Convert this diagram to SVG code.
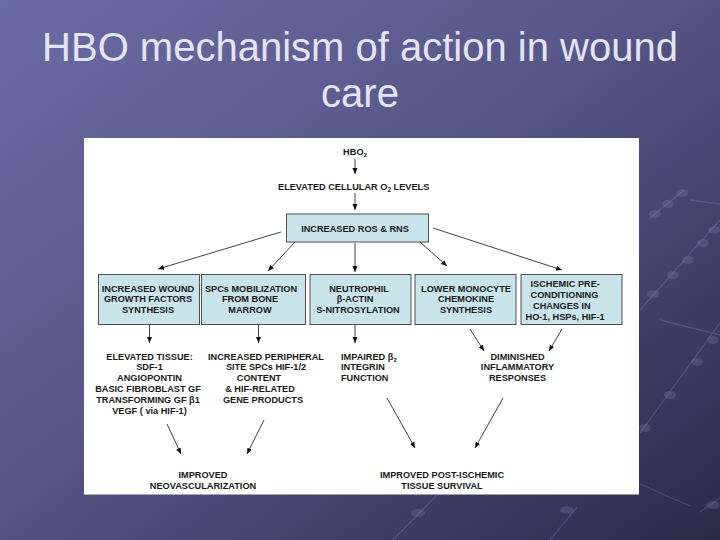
<svg xmlns="http://www.w3.org/2000/svg" width="720" height="540" viewBox="0 0 720 540">
<defs>
<linearGradient id="bg" x1="0" y1="0" x2="1" y2="1">
<stop offset="0" stop-color="#6c6ca4"/>
<stop offset="0.45" stop-color="#565688"/>
<stop offset="1" stop-color="#2a2a48"/>
</linearGradient>
<marker id="ah" viewBox="0 0 10 10" refX="10" refY="5" markerWidth="6" markerHeight="6" markerUnits="userSpaceOnUse" orient="auto">
<path d="M0,0.8 L10,5 L0,9.2 z" fill="#111"/>
</marker>
<style>
.title{font-family:"Liberation Sans",Arial,sans-serif;font-size:40px;fill:#e4e4f6;text-anchor:middle}
.t{font-family:"Liberation Sans",Arial,sans-serif;font-weight:bold;font-size:9.2px;fill:#1a1a1a}
.m{text-anchor:middle}
.box{fill:#c9e4ea;stroke:#505050;stroke-width:1}
.c line{stroke:#111;stroke-width:0.8;marker-end:url(#ah)}
.deco{stroke:#9a9ad0;stroke-opacity:0.25;stroke-width:1.3;fill:none}
.bead{fill:#8888bb;fill-opacity:0.25}
</style>
</defs>
<rect x="0" y="0" width="720" height="540" fill="url(#bg)"/>
<g id="decoration">
<path class="deco" d="M640,433 L720,323 M640,310 L720,220 M650,218 L684,190 M393,540 L437,495 M550,540 L577,507 M700,512 L720,498 M640,484 L690,506 M690,200 L720,204 M660,320 L720,335"/>
<ellipse class="bead" cx="645" cy="428" rx="6" ry="4"/>
<ellipse class="bead" cx="670" cy="395" rx="6" ry="4"/>
<ellipse class="bead" cx="697" cy="362" rx="6" ry="4"/>
<ellipse class="bead" cx="713" cy="340" rx="6" ry="4"/>
<ellipse class="bead" cx="653" cy="294" rx="6" ry="4"/>
<ellipse class="bead" cx="673" cy="275" rx="6" ry="4"/>
<ellipse class="bead" cx="688" cy="260" rx="6" ry="4"/>
<ellipse class="bead" cx="703" cy="243" rx="6" ry="4"/>
<ellipse class="bead" cx="714" cy="230" rx="6" ry="4"/>
<ellipse class="bead" cx="655" cy="214" rx="6" ry="4"/>
<ellipse class="bead" cx="668" cy="204" rx="6" ry="4"/>
<ellipse class="bead" cx="682" cy="193" rx="6" ry="4"/>
<ellipse class="bead" cx="418" cy="513" rx="7" ry="4"/>
<ellipse class="bead" cx="567" cy="510" rx="7" ry="4"/>
<ellipse class="bead" cx="713" cy="505" rx="7" ry="4"/>
</g>
<g id="title">
<text class="title" x="360" y="61">HBO mechanism of action in wound</text>
<text class="title" x="360" y="107">care</text>
</g>
<rect id="panel" x="84" y="138" width="555" height="356.5" fill="#ffffff"/>
<g id="hbo2"><text class="t m" x="355" y="155">HBO<tspan font-size="6" dy="2">2</tspan></text></g>
<g id="elevated-o2"><text class="t" x="278" y="190" font-size="10.6">ELEVATED CELLULAR O<tspan font-size="6.5" dy="2">2</tspan><tspan dy="-2"> LEVELS</tspan></text></g>
<g id="ros">
<rect class="box" x="286.5" y="214" width="142" height="28"/>
<text class="t m" x="355" y="232" font-size="10.6">INCREASED ROS &amp; RNS</text>
</g>
<g id="box1">
<rect class="box" x="98.5" y="274.5" width="101" height="50"/>
<text class="t m" x="148" y="291.5">INCREASED WOUND</text>
<text class="t m" x="148" y="302.3">GROWTH FACTORS</text>
<text class="t m" x="148" y="313.1">SYNTHESIS</text>
</g>
<g id="box2">
<rect class="box" x="201.5" y="274.5" width="104" height="50"/>
<text class="t m" x="251" y="291.5">SPCs MOBILIZATION</text>
<text class="t m" x="250" y="302.3">FROM BONE</text>
<text class="t m" x="250" y="313.1">MARROW</text>
</g>
<g id="box3">
<rect class="box" x="310" y="274.5" width="101" height="50"/>
<text class="t m" x="359" y="291.5">NEUTROPHIL</text>
<text class="t m" x="355" y="302.3">β-ACTIN</text>
<text class="t m" x="358" y="313.1">S-NITROSYLATION</text>
</g>
<g id="box4">
<rect class="box" x="415" y="274.5" width="101" height="50"/>
<text class="t m" x="466" y="291.5">LOWER MONOCYTE</text>
<text class="t m" x="466" y="302.3">CHEMOKINE</text>
<text class="t m" x="466" y="313.1">SYNTHESIS</text>
</g>
<g id="box5">
<rect class="box" x="521" y="274.5" width="101" height="50"/>
<text class="t" x="530.5" y="286.7">ISCHEMIC PRE-</text>
<text class="t" x="530.5" y="297.5">CONDITIONING</text>
<text class="t" x="533" y="308.8">CHANGES IN</text>
<text class="t" x="525.5" y="320">HO-1, HSPs, HIF-1</text>
</g>
<g id="elevated-tissue">
<text class="t m" x="149.5" y="359.5">ELEVATED TISSUE:</text>
<text class="t m" x="149.5" y="370.3">SDF-1</text>
<text class="t m" x="149.5" y="381.1">ANGIOPONTIN</text>
<text class="t m" x="148" y="391.9">BASIC FIBROBLAST GF</text>
<text class="t m" x="148" y="402.7">TRANSFORMING GF β1</text>
<text class="t m" x="149.5" y="413.5">VEGF ( via HIF-1)</text>
</g>
<g id="peripheral">
<text class="t m" x="266" y="359.5">INCREASED PERIPHERAL</text>
<text class="t m" x="266" y="370.3">SITE SPCs HIF-1/2</text>
<text class="t m" x="259" y="381.1">CONTENT</text>
<text class="t m" x="260" y="391.9">&amp; HIF-RELATED</text>
<text class="t m" x="263" y="402.7">GENE PRODUCTS</text>
</g>
<g id="impaired">
<text class="t" x="341" y="359.5">IMPAIRED β<tspan font-size="6" dy="2">2</tspan></text>
<text class="t" x="341" y="370.3">INTEGRIN</text>
<text class="t" x="341" y="381.1">FUNCTION</text>
</g>
<g id="diminished">
<text class="t m" x="517.5" y="359.5">DIMINISHED</text>
<text class="t m" x="517.5" y="370.3">INFLAMMATORY</text>
<text class="t m" x="517.5" y="381.1">RESPONSES</text>
</g>
<g id="neovascularization">
<text class="t m" x="203" y="477.5">IMPROVED</text>
<text class="t m" x="203" y="488.5">NEOVASCULARIZATION</text>
</g>
<g id="survival">
<text class="t m" x="442" y="477.5">IMPROVED POST-ISCHEMIC</text>
<text class="t m" x="442" y="488.5">TISSUE SURVIVAL</text>
</g>
<g id="connectors" class="c">
<line x1="355" y1="159" x2="355" y2="174"/>
<line x1="355" y1="193" x2="355" y2="210"/>
<line x1="281" y1="232" x2="158" y2="269"/>
<line x1="295" y1="242" x2="268" y2="271"/>
<line x1="355" y1="243" x2="355" y2="272"/>
<line x1="420" y1="242" x2="447" y2="266"/>
<line x1="433" y1="228" x2="562" y2="270"/>
<line x1="149.5" y1="325" x2="149.5" y2="343"/>
<line x1="258.5" y1="325" x2="258.5" y2="343"/>
<line x1="355" y1="325" x2="355" y2="343"/>
<line x1="470" y1="329" x2="484" y2="351"/>
<line x1="562" y1="329" x2="549" y2="351"/>
<line x1="167" y1="424" x2="181" y2="454"/>
<line x1="264" y1="420" x2="247" y2="454"/>
<line x1="387" y1="398" x2="415" y2="448"/>
<line x1="503" y1="398" x2="475" y2="448"/>
</g>
</svg>
